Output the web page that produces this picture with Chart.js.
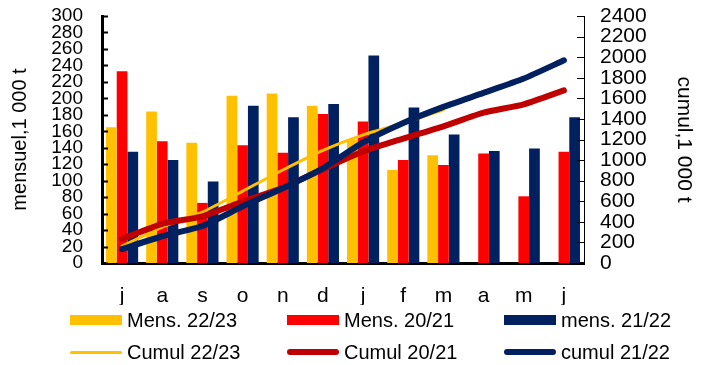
<!DOCTYPE html>
<html>
<head>
<meta charset="utf-8">
<script src="https://cdn.jsdelivr.net/npm/chart.js@4.4.0/dist/chart.umd.min.js"></script>
<style>
  body { margin: 0; background: #fff; }
  #wrap { position: relative; width: 706px; height: 365px; font-family: "Liberation Sans", Arial, sans-serif; }
  #legend { position: absolute; left: 0; top: 0; width: 706px; height: 365px; pointer-events: none; }
  .item { position: absolute; font-size: 20px; color: #000; white-space: nowrap; line-height: 24px; }
  .sw { position: absolute; width: 52px; }
  .item span { position: absolute; left: 57px; top: 0; }
</style>
</head>
<body>
<div id="wrap">
  <canvas id="chart" width="706" height="365"></canvas>
  <div id="legend"></div>
</div>
<script>
// months July -> June
const months = ["j", "a", "s", "o", "n", "d", "j", "f", "m", "a", "m", "j"];

// monthly values, 1 000 t
const mens2223 = [165, 184, 146, 203, 206, 191, 150, 113, 131, null, null, null];
const mens2021 = [233, 148, 73, 143, 134, 181, 172, 125, 119, 133, 81, 135];
const mens2122 = [135, 125, 99, 191, 177, 193, 252, 189, 156, 136, 139, 177];

// cumulative values, 1 000 t
const cum2223 = [165, 349, 495, 698, 904, 1095, 1245, 1358, 1489, null, null, null];
const cum2021 = [233, 381, 454, 597, 731, 912, 1084, 1209, 1328, 1461, 1542, 1677];
const cum2122 = [135, 260, 359, 550, 727, 920, 1172, 1361, 1517, 1653, 1792, 1969];

const leftTicks = [0, 20, 40, 60, 80, 100, 120, 140, 160, 180, 200, 220, 240, 260, 280, 300];
const rightTicks = [0, 200, 400, 600, 800, 1000, 1200, 1400, 1600, 1800, 2000, 2200, 2400];

const YELLOW = "#FFC000", RED = "#FF0000", NAVY = "#002060", DARKRED = "#C00000";
const FONT = "'Liberation Sans', Arial, sans-serif";

// short tick marks drawn inside the plot area
const innerTicks = {
  id: "innerTicks",
  afterDraw(chart) {
    const ctx = chart.ctx;
    const { left, right } = chart.chartArea;
    ctx.save();
    ctx.strokeStyle = "#000";
    ctx.lineWidth = 2;
    leftTicks.forEach(v => {
      const y = Math.round(chart.scales.y.getPixelForValue(v)) + 0.5;
      ctx.beginPath(); ctx.moveTo(left, y); ctx.lineTo(left + 6, y); ctx.stroke();
    });
    ctx.lineWidth = 1;
    rightTicks.forEach(v => {
      const y = Math.round(chart.scales.y1.getPixelForValue(v)) + 0.5;
      ctx.beginPath(); ctx.moveTo(right - 7, y); ctx.lineTo(right, y); ctx.stroke();
    });
    ctx.restore();
  }
};

const barDs = (label, data, color) => ({
  type: "bar", label, data, backgroundColor: color, yAxisID: "y", order: 10,
  categoryPercentage: 0.8, barPercentage: 1.0
});
const lineDs = (label, data, color, w, order) => ({
  type: "line", label, data, borderColor: color, backgroundColor: color, borderWidth: w,
  yAxisID: "y1", order, pointRadius: 0, tension: 0.2, borderCapStyle: "round", spanGaps: false
});

// fixed box sizes, no extra label padding
const fixBox = (w, h) => s => {
  if (w) s.width = w;
  if (h) s.height = h;
  s.paddingTop = 0; s.paddingBottom = 0; s.paddingLeft = 0; s.paddingRight = 0;
};

const chart = new Chart(document.getElementById("chart"), {
  data: {
    labels: months,
    datasets: [
      barDs("Mens. 22/23", mens2223, YELLOW),
      barDs("Mens. 20/21", mens2021, RED),
      barDs("mens. 21/22", mens2122, NAVY),
      lineDs("Cumul 22/23", cum2223, YELLOW, 3, 3),
      lineDs("Cumul 20/21", cum2021, DARKRED, 6, 2),
      lineDs("cumul 21/22", cum2122, NAVY, 6, 1),
    ],
  },
  options: {
    responsive: false,
    animation: false,
    layout: { padding: { top: 16, bottom: 60, left: 0, right: 0 } },
    plugins: { legend: { display: false }, tooltip: { enabled: false } },
    scales: {
      x: {
        grid: { display: false },
        border: { color: "#000", width: 3 },
        ticks: { color: "#000", font: { family: FONT, size: 21 }, padding: 13 },
        afterFit: fixBox(0, 42)
      },
      y: {
        position: "left",
        min: 0, max: 300,
        afterBuildTicks(s) { s.ticks = leftTicks.map(v => ({ value: v })); },
        grid: { display: false, drawTicks: false },
        border: { color: "#000", width: 3 },
        ticks: { color: "#000", font: { family: FONT, size: 19 }, padding: 19, autoSkip: false },
        title: { display: true, text: "mensuel,1 000 t", color: "#000", font: { family: FONT, size: 20 }, padding: { top: 8, bottom: 0 } },
        afterFit: fixBox(102, 0)
      },
      y1: {
        position: "right",
        min: 0, max: 2400,
        afterBuildTicks(s) { s.ticks = rightTicks.map(v => ({ value: v })); },
        grid: { display: false, drawTicks: false },
        border: { color: "#000", width: 1 },
        ticks: { color: "#000", font: { family: FONT, size: 21 }, padding: 16, autoSkip: false,
                 callback: v => String(v) },
        title: { display: true, text: "cumul,1 000 t", color: "#000", font: { family: FONT, size: 21 }, padding: { top: 10, bottom: 0 } },
        afterFit: fixBox(122, 0)
      }
    }
  },
  plugins: [innerTicks]
});

// legend: two rows of three, built from the chart's datasets
const legend = document.getElementById("legend");
const cols = [70, 287, 504];
chart.data.datasets.forEach((ds, i) => {
  const row = i < 3 ? 0 : 1;
  const item = document.createElement("div");
  item.className = "item";
  item.style.left = cols[i % 3] + "px";
  item.style.top = (row === 0 ? 308 : 340) + "px";
  const sw = document.createElement("div");
  sw.className = "sw";
  if (ds.type === "bar") {
    sw.style.height = "10px"; sw.style.top = "7px";
    sw.style.background = ds.backgroundColor;
  } else {
    sw.style.background = ds.borderColor;
    sw.style.height = ds.borderWidth + "px";
    sw.style.top = (12 - ds.borderWidth / 2) + "px";
    sw.style.borderRadius = ds.borderWidth + "px";
  }
  const t = document.createElement("span");
  t.textContent = ds.label;
  item.appendChild(sw);
  item.appendChild(t);
  legend.appendChild(item);
});
</script>
</body>
</html>
